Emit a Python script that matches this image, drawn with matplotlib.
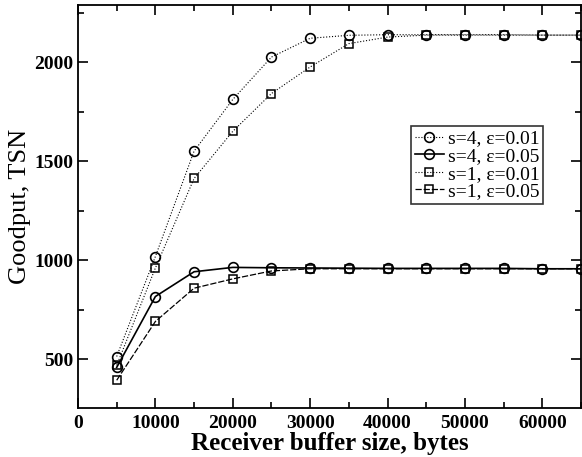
import matplotlib
matplotlib.use("Agg")
import matplotlib.pyplot as plt
from matplotlib.ticker import MultipleLocator

plt.rcParams['font.family'] = ['Liberation Serif', 'DejaVu Serif']
plt.rcParams['mathtext.fontset'] = 'stix'

# receiver buffer sizes, bytes
buf = [5000, 10000, 15000, 20000, 25000, 30000, 35000, 40000,
       45000, 50000, 55000, 60000, 65000]

s4_e001 = [515, 1020, 1552, 1813, 2027, 2122, 2137, 2140, 2140, 2140, 2140, 2138, 2138]
s4_e005 = [460, 818, 943, 965, 963, 962, 961, 960, 960, 960, 960, 958, 958]
s1_e001 = [470, 962, 1414, 1652, 1843, 1977, 2095, 2128, 2138, 2138, 2138, 2138, 2138]
s1_e005 = [395, 692, 860, 907, 947, 958, 958, 958, 958, 958, 958, 958, 958]

labels = ['s=4, ε=0.01', 's=4, ε=0.05', 's=1, ε=0.01', 's=1, ε=0.05']

fig = plt.figure(figsize=(5.82, 4.57), dpi=100)
ax = fig.add_axes([78 / 582, 1 - 408 / 457, 503 / 582, 403 / 457])

mk = dict(markersize=7, markerfacecolor='none', markeredgecolor='black', markeredgewidth=1.2)
ax.plot(buf, s4_e001, color='black', linestyle=':', linewidth=0.8, marker='o', label=labels[0], **mk)
ax.plot(buf, s4_e005, color='black', linestyle='-', linewidth=1.2, marker='o', label=labels[1], **mk)
ax.plot(buf, s1_e001, color='black', linestyle=':', linewidth=0.8, marker='s', label=labels[2],
        markersize=6, markerfacecolor='none', markeredgecolor='black', markeredgewidth=1.1)
ax.plot(buf, s1_e005, color='black', linestyle=(0, (5, 1.5)), linewidth=0.9, marker='s', label=labels[3],
        markersize=6, markerfacecolor='none', markeredgecolor='black', markeredgewidth=1.1)

ax.set_xlim(0, 65000)
ax.set_ylim(255, 2290)
ax.xaxis.set_major_locator(MultipleLocator(10000))
ax.xaxis.set_minor_locator(MultipleLocator(5000))
ax.yaxis.set_major_locator(MultipleLocator(500))
ax.yaxis.set_minor_locator(MultipleLocator(250))
ax.tick_params(which='both', direction='in', top=True, right=True, labelsize=14, width=1.2)
ax.tick_params(which='major', length=7)
ax.tick_params(which='minor', length=4)
ax.tick_params(axis='x', pad=5)
for lab in ax.get_xticklabels() + ax.get_yticklabels():
    lab.set_fontweight('bold')
for sp in ax.spines.values():
    sp.set_linewidth(1.3)

ax.set_xlabel('Receiver buffer size, bytes', fontsize=18, fontweight='bold', labelpad=0)
ax.set_ylabel('Goodput, TSN', fontsize=19, labelpad=2)

leg = ax.legend(loc='upper right', bbox_to_anchor=(0.925, 0.7), fontsize=14,
                frameon=True, fancybox=False, edgecolor='black', handlelength=1.5,
                handletextpad=0.2, borderpad=0.2, labelspacing=0.0, borderaxespad=0)
leg.get_frame().set_linewidth(1.2)

fig.savefig('out.png', dpi=100)
